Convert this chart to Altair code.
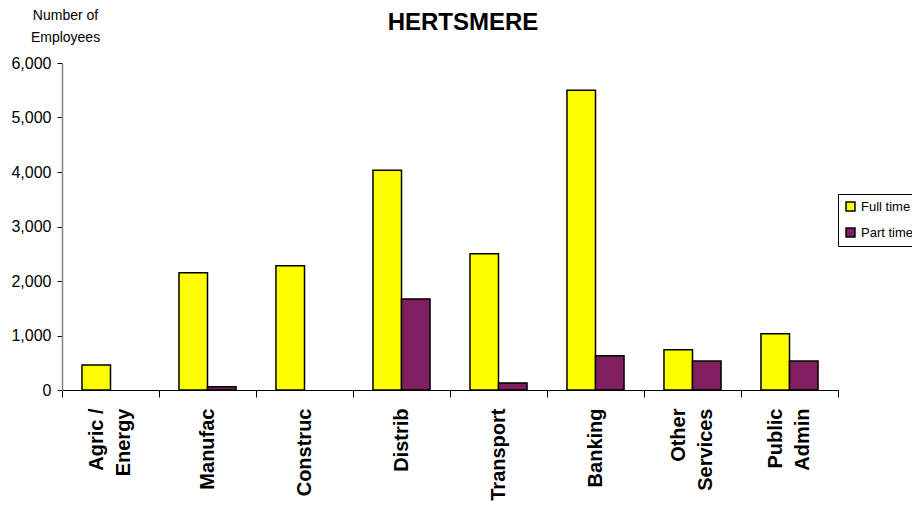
import altair as alt
import pandas as pd

categories = ["Agric /|Energy", "Manufac", "Construc", "Distrib", "Transport",
              "Banking", "Other|Services", "Public|Admin"]
full_time = [460, 2150, 2280, 4030, 2500, 5500, 740, 1030]
part_time = [0, 60, 0, 1670, 130, 630, 530, 530]
series = ["Full time", "Part time"]
colors = ["#FFFF00", "#7F1F5F"]
y_ticks = [0, 1000, 2000, 3000, 4000, 5000, 6000]

rows = []
for c, f, p in zip(categories, full_time, part_time):
    rows.append({"category": c, "series": series[0], "value": f})
    rows.append({"category": c, "series": series[1], "value": p})
df = pd.DataFrame(rows)

FONT = "Liberation Sans"

chart = alt.Chart(df).transform_filter("datum.value > 0").mark_bar(
    stroke="black", strokeWidth=1.5
).encode(
    x=alt.X("category:N", sort=categories,
            scale=alt.Scale(paddingInner=0, paddingOuter=0),
            axis=alt.Axis(title=None, labelAngle=-90, labelAlign="right",
                          labelBaseline="middle", labelFontSize=20,
                          labelFontWeight="bold", labelColor="black",
                          labelExpr="split(datum.label, '|')",
                          labelLineHeight=27, labelPadding=11,
                          labelOffset={"condition": {"test": "indexof(datum.label, '|') >= 0",
                                                     "value": -14},
                                       "value": 0},
                          tickBand="extent", tickSize=7, tickColor="black",
                          domainColor="black", tickWidth=1, domainWidth=1)),
    xOffset=alt.XOffset("series:N", sort=series,
                        scale=alt.Scale(paddingInner=0, paddingOuter=0.7)),
    y=alt.Y("value:Q", scale=alt.Scale(domain=[0, 6000], nice=False),
            axis=alt.Axis(values=y_ticks, format=",.0f", grid=False,
                          title=["Number of", "Employees"], titleAngle=0,
                          titleAlign="center", titleBaseline="alphabetic",
                          titleX=3, titleY=-44, titleFontSize=14,
                          titleFontWeight="normal", titleColor="black",
                          titleLineHeight=22,
                          labelFontSize=16, labelColor="black", labelPadding=6,
                          tickSize=5, tickColor="black", domainColor="#808080",
                          domainWidth=1.5)),
    fill=alt.Fill("series:N", sort=series,
                  scale=alt.Scale(domain=series, range=colors),
                  legend=alt.Legend(title=None, orient="none", legendX=776,
                                    legendY=131, strokeColor="black",
                                    padding=6, symbolType="square",
                                    symbolSize=80, symbolStrokeColor="black",
                                    symbolStrokeWidth=1.5, labelFontSize=13,
                                    labelOffset=4,
                                    labelColor="black", rowPadding=11,
                                    fillColor="white")),
).properties(
    width=776, height=327,
    title=alt.TitleParams("HERTSMERE", fontSize=24, fontWeight="bold",
                          anchor="middle", frame="group", dx=13,
                          offset=-27, color="black"),
    autosize=alt.AutoSizeParams(type="none"),
    padding={"left": 54, "top": 55, "right": 74, "bottom": 125},
).configure(font=FONT, background="white").configure_view(stroke=None)

chart.save("out.html", embed_options={"renderer": "svg", "actions": False})
